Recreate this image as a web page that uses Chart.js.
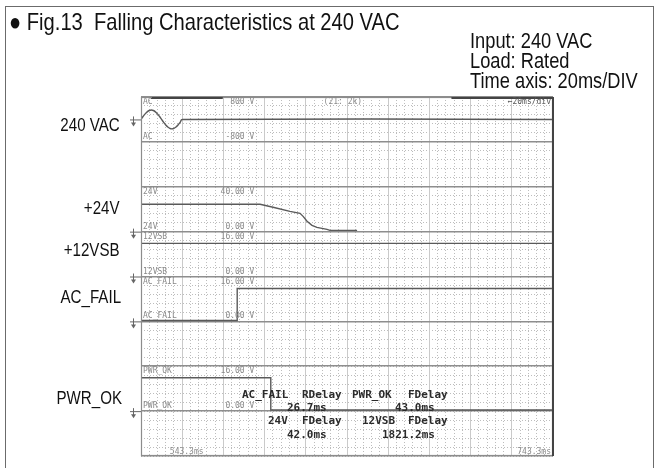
<!DOCTYPE html>
<html><head><meta charset="utf-8">
<script src="https://cdn.jsdelivr.net/npm/chart.js@4/dist/chart.umd.min.js"></script>
<style>
body{margin:0;background:#fff;width:661px;height:468px;overflow:hidden;position:relative;font-family:"Liberation Sans",Arial,sans-serif;}
#frame{position:absolute;left:5px;top:6px;width:647px;height:520px;border:1.5px solid #6b6b6b;}
.t{position:absolute;white-space:pre;color:#111;transform-origin:0 50%;line-height:1;}
.r{position:absolute;white-space:pre;color:#111;transform-origin:100% 50%;line-height:1;text-align:right;}
canvas{position:absolute;left:0;top:0;}
</style></head><body>
<div id="frame"></div>
<canvas id="c" width="661" height="468"></canvas>
<div class="t" style="left:9px;top:10px;font-size:24px;transform:scaleX(0.84)">● Fig.13  Falling Characteristics at 240 VAC</div>
<div class="t" style="left:470px;top:30px;font-size:22px;transform:scaleX(0.83)">Input: 240 VAC</div>
<div class="t" style="left:470px;top:50px;font-size:22px;transform:scaleX(0.83)">Load: Rated</div>
<div class="t" style="left:470px;top:70px;font-size:22px;transform:scaleX(0.83)">Time axis: 20ms/DIV</div>
<div class="r" style="right:541px;top:116px;font-size:18px;transform:scaleX(0.84)">240 VAC</div>
<div class="r" style="right:541px;top:199px;font-size:18px;transform:scaleX(0.84)">+24V</div>
<div class="r" style="right:541px;top:241px;font-size:18px;transform:scaleX(0.84)">+12VSB</div>
<div class="r" style="right:540px;top:288px;font-size:18px;transform:scaleX(0.84)">AC_FAIL</div>
<div class="r" style="right:539px;top:389px;font-size:18px;transform:scaleX(0.84)">PWR_OK</div>
<script>
// ---- time axis ----
const T_START = 543.3, T_END = 743.3, MS_PER_DIV = 20;
const timeLabels = ["543.3ms", "743.3ms"];

// ---- channel traces (time in ms, value in volts) ----
const acTime  = [543.3,544.3,545.3,546.3,547.3,548.3,549.3,550.3,551.3,552.3,553.3,554.3,555.3,556.3,557.3,558.3,559.3,560.3,561.3,562.3,563.3,743.3];
const acVolts = [0,104,197,271,319,335,319,271,197,104,0,-104,-197,-271,-319,-335,-319,-271,-197,-104,0,0];

const v24Time  = [543.3,601.1,607.4,615.6,620.5,622.0,623.9,626.3,628.7,633.6,635.0,648.2];
const v24Volts = [24.4,24.4,21.7,18.1,16.3,13.6,9.2,5.6,3.8,2.0,1.1,1.1];

const vsbTime  = [543.3,743.3];
const vsbVolts = [11.8,11.8];

const acFailTime  = [543.3,590.0,590.0,743.3];
const acFailVolts = [0.3,0.3,11.7,11.7];

const pwrOkTime  = [543.3,606.3,606.3,743.3];
const pwrOkVolts = [11.9,11.9,0.4,0.4];

// ---- channel scaling: each channel lives in one screen division ----
const channels = [
  {name:"AC",      time:acTime,     volts:acVolts,     zero:7.5, vPerDiv:1600, top:"800 V",   bottom:"-800 V", smooth:true},
  {name:"24V",     time:v24Time,    volts:v24Volts,    zero:5,   vPerDiv:40,   top:"40.00 V", bottom:"0.00 V"},
  {name:"12VSB",   time:vsbTime,    volts:vsbVolts,    zero:4,   vPerDiv:16,   top:"16.00 V", bottom:"0.00 V"},
  {name:"AC_FAIL", time:acFailTime, volts:acFailVolts, zero:3,   vPerDiv:16,   top:"16.00 V", bottom:"0.00 V"},
  {name:"PWR_OK",  time:pwrOkTime,  volts:pwrOkVolts,  zero:1,   vPerDiv:16,   top:"16.00 V", bottom:"0.00 V"}
];
const Y_DIVS = 8;

// measurement readouts
const measHeader1 = ["AC_FAIL","RDelay","PWR_OK","FDelay"];
const measValues1 = ["26.7ms","43.0ms"];
const measHeader2 = ["24V","FDelay","12VSB","FDelay"];
const measValues2 = ["42.0ms","1821.2ms"];

const datasets = channels.map(ch => ({
  label: ch.name,
  data: ch.time.map((t,i) => ({x:t, y: ch.zero + ch.volts[i]/ch.vPerDiv})),
  borderColor: "#5a5a5a",
  borderWidth: 1.4,
  pointRadius: 0,
  tension: ch.smooth ? 0.4 : 0,
  fill: false
}));

const majorX = []; for (let i=0;i<=10;i++) majorX.push(T_START + i*MS_PER_DIV);
const minorX = []; for (let i=0;i<=50;i++) minorX.push(T_START + i*MS_PER_DIV/5);
const majorY = []; for (let i=0;i<=Y_DIVS;i++) majorY.push(i);
const minorY = []; for (let i=0;i<=Y_DIVS*5;i++) minorY.push(i/5);

const scopeDeco = {
  id:"scopeDeco",
  afterDraw(chart){
    const {ctx, chartArea:a, scales:{x,y}} = chart;
    ctx.save();
    // border
    ctx.strokeStyle="#8c8c8c"; ctx.lineWidth=1.2;
    ctx.strokeRect(a.left+0.5, a.top+0.5, a.right-a.left-1, a.bottom-a.top-1);
    ctx.strokeStyle="#444"; ctx.lineWidth=2;
    ctx.beginPath(); ctx.moveTo(a.right, a.top); ctx.lineTo(a.right, a.bottom); ctx.stroke();
    ctx.beginPath(); ctx.moveTo(x.getPixelForValue(548),a.top+1); ctx.lineTo(x.getPixelForValue(583),a.top+1); ctx.stroke();
    ctx.beginPath(); ctx.moveTo(x.getPixelForValue(694),a.top+1); ctx.lineTo(a.right,a.top+1); ctx.stroke();
    // channel labels
    ctx.font="8px 'DejaVu Sans Mono'"; ctx.fillStyle="#8a8a8a"; ctx.textBaseline="middle";
    const lx = a.left+2, rx = x.getPixelForValue(T_START+2.75*MS_PER_DIV);
    channels.forEach(ch=>{
      const topPx = y.getPixelForValue(Math.floor(ch.zero)+1), botPx = y.getPixelForValue(Math.floor(ch.zero));
      ctx.textAlign="left"; ctx.fillText(ch.name, lx, topPx+5); ctx.fillText(ch.name, lx, botPx-5);
      ctx.textAlign="right"; ctx.fillText(ch.top, rx, topPx+5); ctx.fillText(ch.bottom, rx, botPx-5);
      // ground marker
      const gy = y.getPixelForValue(ch.zero);
      ctx.strokeStyle="#666"; ctx.lineWidth=1;
      ctx.beginPath(); ctx.moveTo(a.left-11,gy+0.5); ctx.lineTo(a.left,gy+0.5);
      ctx.moveTo(a.left-7.5,gy-3); ctx.lineTo(a.left-7.5,gy+4); ctx.stroke();
      ctx.fillStyle="#666";
      ctx.beginPath(); ctx.moveTo(a.left-10,gy+3); ctx.lineTo(a.left-5,gy+3); ctx.lineTo(a.left-7.5,gy+7); ctx.fill();
      ctx.fillStyle="#8a8a8a";
    });
    ctx.textAlign="center"; ctx.fillText("(21: 2k)", x.getPixelForValue(T_START+4.9*MS_PER_DIV), a.top+5);
    ctx.fillStyle="#555"; ctx.textAlign="right"; ctx.fillText("\u219020ms/div", a.right-2, a.top+5);
    ctx.fillStyle="#8a8a8a";
    ctx.textAlign="left"; ctx.fillText(timeLabels[0], x.getPixelForValue(T_START+0.7*MS_PER_DIV), a.bottom-4);
    ctx.textAlign="right"; ctx.fillText(timeLabels[1], a.right-2, a.bottom-4);
    // measurement readouts
    ctx.font="bold 11px 'DejaVu Sans Mono'"; ctx.fillStyle="#2b2b2b"; ctx.textAlign="left";
    const hx=[242,302,352,408], hx2=[268,302,362,408];
    measHeader1.forEach((s,i)=>ctx.fillText(s,hx[i],395));
    ctx.fillText(measValues1[0],287,408); ctx.fillText(measValues1[1],395,408);
    measHeader2.forEach((s,i)=>ctx.fillText(s,hx2[i],421));
    ctx.fillText(measValues2[0],287,435); ctx.fillText(measValues2[1],382,435);
    ctx.restore();
  }
};

const hidden = {display:false};
new Chart(document.getElementById("c"), {
  type:"line",
  data:{datasets},
  options:{
    responsive:false, animation:false, devicePixelRatio:1,
    layout:{padding:{left:141, right:108, top:97, bottom:12}},
    plugins:{legend:hidden, tooltip:{enabled:false}, title:hidden},
    scales:{
      xm:{type:"linear", min:T_START, max:T_END, position:"bottom",
          afterBuildTicks:ax=>{ax.ticks=minorX.map(v=>({value:v}));},
          ticks:hidden, grid:{color:"#bdbdbd", lineWidth:1, drawTicks:false}, border:{display:false, dash:[1,2]}},
      ym:{type:"linear", min:0, max:Y_DIVS, position:"left",
          afterBuildTicks:ax=>{ax.ticks=minorY.map(v=>({value:v}));},
          ticks:hidden, grid:{color:"#bdbdbd", lineWidth:1, drawTicks:false}, border:{display:false, dash:[1,2]}},
      x:{type:"linear", min:T_START, max:T_END, position:"bottom",
          afterBuildTicks:ax=>{ax.ticks=majorX.map(v=>({value:v}));},
          ticks:hidden, grid:{color:"#cacaca", lineWidth:1, drawTicks:false}, border:{display:false}},
      y:{type:"linear", min:0, max:Y_DIVS, position:"left",
          afterBuildTicks:ax=>{ax.ticks=majorY.map(v=>({value:v}));},
          ticks:hidden, grid:{color:"#8e8e8e", lineWidth:1.6, drawTicks:false}, border:{display:false}}
    }
  },
  plugins:[scopeDeco]
});
</script>
</body></html>
